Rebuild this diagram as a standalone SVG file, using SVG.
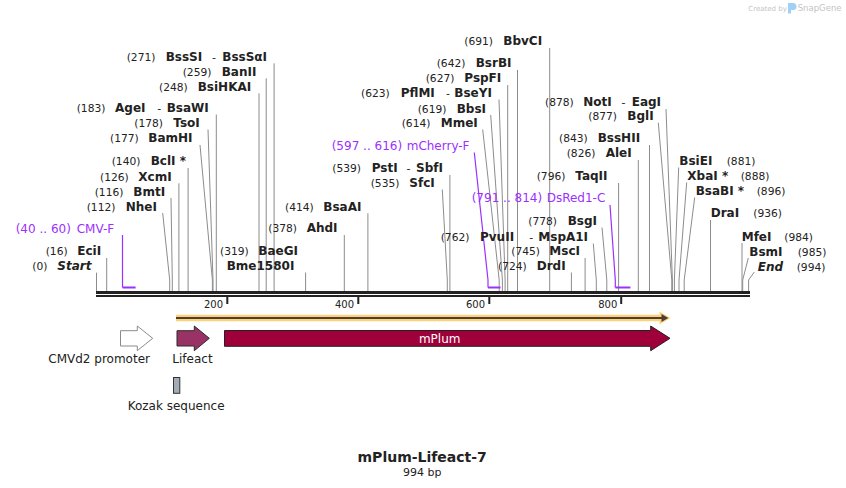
<svg xmlns="http://www.w3.org/2000/svg" width="846" height="488" viewBox="0 0 846 488">
<style>
text{font-family:"DejaVu Sans",Verdana,sans-serif;fill:#222}
.p{font-size:10.7px}
.n{font-size:12px;font-weight:bold}
.i{font-style:italic}
.d{font-size:11px}
.pr{font-size:12px;fill:#9b30ff}
.t{font-size:10px}
.f{font-size:12px}
.ln{stroke:#8c8c8c;stroke-width:1;fill:none}
.pl{stroke:#9b30ff;stroke-width:1.2;fill:none}
.pb{stroke:#9b30ff;stroke-width:2;fill:none}
.wm{fill:#c4c4c4}
</style>
<rect width="846" height="488" fill="#fff"/>

<g id="watermark">
<text class="wm" x="748.3" y="11" style="font-size:7px">Created by</text>
<path d="M788,3 h5 a3.5,3.5 0 0 1 0,7 h-2 v3.5 h-3 z" fill="#9fd0f5"/>
<text class="wm" x="797.7" y="11" style="font-size:8.5px">SnapGene</text>
</g>

<g id="connectors">
<path class="ln" d="M274.1,63.3V291"/>
<path class="ln" d="M266.2,78.3V291"/>
<path class="ln" d="M259,93.3V291"/>
<path class="ln" d="M216.3,114.5V291"/>
<polyline class="ln" points="208,129.5 213,280 213,291"/>
<polyline class="ln" points="200,145 212.4,280 212.4,291"/>
<path class="ln" d="M188.1,168V291"/>
<path class="ln" d="M178.9,183.3V291"/>
<polyline class="ln" points="171,198 172.3,280 172.3,291"/>
<polyline class="ln" points="162.7,213 169.7,280 169.7,291"/>
<path class="ln" d="M106.7,258V291"/>
<path class="ln" d="M96.5,272.7V291"/>
<path class="ln" d="M305.6,272.5V291"/>
<path class="ln" d="M344.3,235V291"/>
<path class="ln" d="M367.9,213.3V291"/>
<path class="ln" d="M449.9,175V291"/>
<polyline class="ln" points="442.3,189.5 447.3,280 447.3,291"/>
<polyline class="ln" points="482.7,129.5 499.2,280 499.2,291"/>
<polyline class="ln" points="490.7,115 502.4,280 502.4,291"/>
<polyline class="ln" points="499,99.5 505.1,280 505.1,291"/>
<path class="ln" d="M507.7,85V291"/>
<path class="ln" d="M517.5,70V291"/>
<path class="ln" d="M549.7,48V291"/>
<polyline class="ln" points="593.3,243.5 596.3,280 596.3,291"/>
<path class="ln" d="M585.1,258V291"/>
<path class="ln" d="M571.4,272.5V291"/>
<polyline class="ln" points="602,227.5 606.8,280 606.8,291"/>
<path class="ln" d="M618.6,183V291"/>
<path class="ln" d="M638.3,160V291"/>
<path class="ln" d="M649.5,145V291"/>
<polyline class="ln" points="658.3,122.7 671.8,280 671.8,291"/>
<polyline class="ln" points="666,109 672.4,280 672.4,291"/>
<polyline class="ln" points="678.7,167.5 674.4,280 674.4,291"/>
<polyline class="ln" points="686.7,182.5 679,280 679,291"/>
<polyline class="ln" points="694.7,197.5 684.2,280 684.2,291"/>
<path class="ln" d="M710.5,220V291"/>
<path class="ln" d="M742,243V291"/>
<polyline class="ln" points="748.3,258 742.7,280 742.7,291"/>
<polyline class="ln" points="754.3,272 748.6,280 748.6,291"/>
<polyline class="pl" points="122.5,235 122.5,287.5"/>
<path class="pb" d="M122.5,287.5H135.6"/>
<polyline class="pl" points="474.3,152.5 488,280 488,287.5"/>
<path class="pb" d="M488,287.5H500.5"/>
<polyline class="pl" points="610,205 615.3,280 615.3,287.5"/>
<path class="pb" d="M615.3,287.5H630.4"/>
</g>

<g id="backbone">
<rect x="96" y="291" width="654" height="3" fill="#222"/>
<rect x="96" y="295" width="654" height="2" fill="#222"/>
<rect x="226.3" y="297" width="2" height="7" fill="#222"/>
<rect x="357.3" y="297" width="2" height="7" fill="#222"/>
<rect x="488.3" y="297" width="2" height="7" fill="#222"/>
<rect x="620.2" y="297" width="2" height="7" fill="#222"/>
<text class="t" x="223" y="307.7" text-anchor="end">200</text>
<text class="t" x="354" y="307.7" text-anchor="end">400</text>
<text class="t" x="485" y="307.7" text-anchor="end">600</text>
<text class="t" x="617.3" y="307.7" text-anchor="end">800</text>
</g>

<g id="e271"><text class="p" x="126.7" y="60.7">(271)</text><text class="n" x="165.7" y="60.7">BssSI</text><text class="d" x="212" y="60.7">-</text><text class="n" x="222.3" y="60.7">BssSαI</text></g>
<g id="e259"><text class="p" x="182.7" y="75.7">(259)</text><text class="n" x="221.7" y="75.7">BanII</text></g>
<g id="e248"><text class="p" x="159" y="90.7">(248)</text><text class="n" x="197.7" y="90.7">BsiHKAI</text></g>
<g id="e183"><text class="p" x="76.7" y="111.7">(183)</text><text class="n" x="115" y="111.7">AgeI</text><text class="d" x="157.3" y="111.7">-</text><text class="n" x="166.7" y="111.7">BsaWI</text></g>
<g id="e178"><text class="p" x="134.3" y="127.3">(178)</text><text class="n" x="173.3" y="127.3">TsoI</text></g>
<g id="e177"><text class="p" x="110" y="142.3">(177)</text><text class="n" x="148.3" y="142.3">BamHI</text></g>
<g id="e140"><text class="p" x="111.7" y="165">(140)</text><text class="n" x="150.7" y="165">BclI *</text></g>
<g id="e126"><text class="p" x="100" y="180.7">(126)</text><text class="n" x="138.3" y="180.7">XcmI</text></g>
<g id="e116"><text class="p" x="94.7" y="195.7">(116)</text><text class="n" x="133.3" y="195.7">BmtI</text></g>
<g id="e112"><text class="p" x="86.7" y="211">(112)</text><text class="n" x="125.7" y="211">NheI</text></g>
<g id="e16"><text class="p" x="45.7" y="255">(16)</text><text class="n" x="77.3" y="255">EciI</text></g>
<g id="start"><text class="p" x="32.3" y="270">(0)</text><text class="n i" x="57.3" y="270">Start</text></g>
<g id="e319"><text class="p" x="220" y="255">(319)</text><text class="n" x="258.3" y="255">BaeGI</text><text class="n" x="226.7" y="270">Bme1580I</text></g>
<g id="e378"><text class="p" x="268.3" y="232.3">(378)</text><text class="n" x="306.7" y="232.3">AhdI</text></g>
<g id="e414"><text class="p" x="285" y="210.7">(414)</text><text class="n" x="323.3" y="210.7">BsaAI</text></g>
<g id="e539"><text class="p" x="332.3" y="172.3">(539)</text><text class="n" x="371.7" y="172.3">PstI</text><text class="d" x="406.5" y="172.3">-</text><text class="n" x="416" y="172.3">SbfI</text></g>
<g id="e535"><text class="p" x="370.7" y="187.3">(535)</text><text class="n" x="409.3" y="187.3">SfcI</text></g>
<g id="e614"><text class="p" x="401.7" y="127.3">(614)</text><text class="n" x="440.7" y="127.3">MmeI</text></g>
<g id="e619"><text class="p" x="417.7" y="112.7">(619)</text><text class="n" x="456.7" y="112.7">BbsI</text></g>
<g id="e623"><text class="p" x="361" y="96.7">(623)</text><text class="n" x="400.7" y="96.7">PflMI</text><text class="d" x="446" y="96.7">-</text><text class="n" x="454.3" y="96.7">BseYI</text></g>
<g id="e627"><text class="p" x="425.7" y="82.3">(627)</text><text class="n" x="464.3" y="82.3">PspFI</text></g>
<g id="e642"><text class="p" x="436.7" y="67.3">(642)</text><text class="n" x="475.7" y="67.3">BsrBI</text></g>
<g id="e691"><text class="p" x="464.3" y="45">(691)</text><text class="n" x="503.3" y="45">BbvCI</text></g>
<g id="e762"><text class="p" x="440.7" y="240.7">(762)</text><text class="n" x="480" y="240.7">PvuII</text><text class="d" x="529.3" y="240.7">-</text><text class="n" x="538.3" y="240.7">MspA1I</text></g>
<g id="e745"><text class="p" x="511.3" y="255">(745)</text><text class="n" x="549.3" y="255">MscI</text></g>
<g id="e724"><text class="p" x="498" y="270">(724)</text><text class="n" x="536.7" y="270">DrdI</text></g>
<g id="e778"><text class="p" x="528.3" y="225">(778)</text><text class="n" x="567.7" y="225">BsgI</text></g>
<g id="e796"><text class="p" x="536.7" y="180">(796)</text><text class="n" x="575.3" y="180">TaqII</text></g>
<g id="e826"><text class="p" x="566.7" y="157.3">(826)</text><text class="n" x="605.7" y="157.3">AleI</text></g>
<g id="e843"><text class="p" x="559" y="142.3">(843)</text><text class="n" x="597.7" y="142.3">BssHII</text></g>
<g id="e877"><text class="p" x="588.3" y="120">(877)</text><text class="n" x="627.3" y="120">BglI</text></g>
<g id="e878"><text class="p" x="545" y="105.7">(878)</text><text class="n" x="583.3" y="105.7">NotI</text><text class="d" x="621.5" y="105.7">-</text><text class="n" x="631.7" y="105.7">EagI</text></g>
<g id="e881"><text class="n" x="679.3" y="165">BsiEI</text><text class="p" x="726.7" y="165">(881)</text></g>
<g id="e888"><text class="n" x="687.3" y="180">XbaI *</text><text class="p" x="740.7" y="180">(888)</text></g>
<g id="e896"><text class="n" x="695.7" y="195">BsaBI *</text><text class="p" x="756.7" y="195">(896)</text></g>
<g id="e936"><text class="n" x="710.7" y="217.3">DraI</text><text class="p" x="753.3" y="217.3">(936)</text></g>
<g id="e984"><text class="n" x="741.7" y="240.7">MfeI</text><text class="p" x="784.3" y="240.7">(984)</text></g>
<g id="e985"><text class="n" x="749.3" y="255.7">BsmI</text><text class="p" x="797.7" y="255.7">(985)</text></g>
<g id="end"><text class="n i" x="757.7" y="270.7">End</text><text class="p" x="796.7" y="270.7">(994)</text></g>

<g id="primer-cmvf"><text class="pr" x="15.7" y="232.7">(40 .. 60)</text><text class="pr" x="76.7" y="232.7">CMV-F</text></g>
<g id="primer-mcherryf"><text class="pr" x="331.7" y="150">(597 .. 616)</text><text class="pr" x="406.7" y="150">mCherry-F</text></g>
<g id="primer-dsred1c"><text class="pr" x="471.7" y="202.3">(791 .. 814)</text><text class="pr" x="546.7" y="202.3">DsRed1-C</text></g>

<g id="orf">
<path d="M176,318H663" stroke="#fdd27f" stroke-width="6.5" fill="none"/>
<polygon points="659.5,311.5 670.5,318 659.5,324.5" fill="#fdd27f"/>
<path d="M176,318H662" stroke="#4d4030" stroke-width="2" fill="none"/>
<polygon points="661.5,314 668.3,318 661.5,322" fill="#4d4030"/>
</g>

<g id="cmvd2">
<path d="M120.5,330.7H137.3V326L152.7,338.3L137.3,350.7V346H120.5Z" fill="#fff" stroke="#8a8a8a" stroke-width="1"/>
<text class="f" x="48.3" y="363.3">CMVd2 promoter</text>
</g>
<g id="lifeact">
<path d="M177,330.7H194.3V326L209.3,338.3L194.3,350.7V346H177Z" fill="#993366" stroke="#2a2a2a" stroke-width="1"/>
<text class="f" x="172.3" y="363.3">Lifeact</text>
</g>
<g id="mplum">
<path d="M224.5,330.5H650.7V326L670,338.3L650.7,350.7V346.3H224.5Z" fill="#a0003a" stroke="#222" stroke-width="1"/>
<text class="f" x="439.7" y="342.5" text-anchor="middle" style="fill:#fff">mPlum</text>
</g>
<g id="kozak">
<rect x="173.5" y="377.5" width="6.3" height="15.8" fill="#a3abb4" stroke="#333" stroke-width="1"/>
<text class="f" x="127.7" y="410">Kozak sequence</text>
</g>

<g id="title">
<text x="422.2" y="461.7" text-anchor="middle" style="font-size:14px;font-weight:bold">mPlum-Lifeact-7</text>
<text x="422.2" y="475.7" text-anchor="middle" style="font-size:11px">994 bp</text>
</g>
</svg>
